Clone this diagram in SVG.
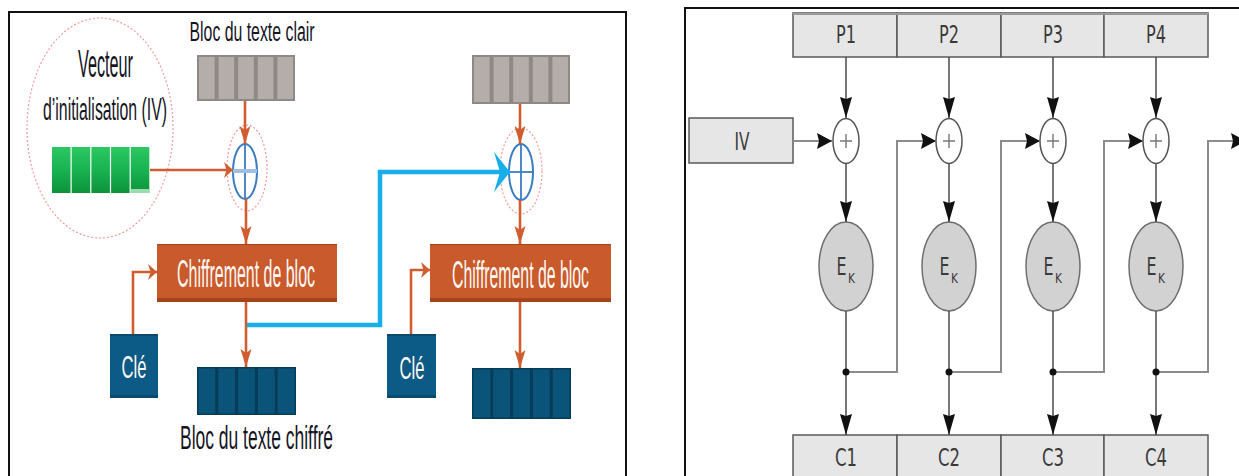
<svg xmlns="http://www.w3.org/2000/svg" width="1239" height="476" viewBox="0 0 1239 476">
  <defs>
    <style>
      .frame { fill: none; stroke: #111; stroke-width: 2; }
      .lbl { font-family: "Liberation Sans", Arial, sans-serif; fill: #15151f; text-anchor: middle; }
      .wlbl { font-family: "Liberation Sans", Arial, sans-serif; fill: #fff8f2; text-anchor: middle; }
      .plbl { font-family: "DejaVu Sans Condensed", "DejaVu Sans", sans-serif; fill: #3a3a3a; text-anchor: middle; }
      .sub { font-family: "DejaVu Sans Condensed", "DejaVu Sans", sans-serif; fill: #3a3a3a; }
      .halo { fill: none; stroke: #f39a9a; stroke-width: 1.2; stroke-dasharray: 2 2; }
      .xor { fill: #fff; stroke: #3b7cc3; stroke-width: 2; }
      .xorline { stroke: #3b7cc3; stroke-width: 1.8; }
      .orange { fill: none; stroke: #d05d2f; stroke-width: 2.6; }
      .cyan { fill: none; stroke: #17aeea; stroke-width: 4.5; }
      .cipher { fill: #c95a2c; }
      .cipher-edge { fill: #a3441c; }
      .key { fill: #0c5a86; }
      .pbox { fill: #e6e6e6; stroke: #5a5a5a; stroke-width: 1.5; }
      .cxor { fill: #fff; stroke: #555; stroke-width: 1.5; }
      .plus { stroke: #777; stroke-width: 1.4; }
      .ek { fill: #d2d2d2; stroke: #6e6e6e; stroke-width: 1.5; }
      .wire { fill: none; stroke: #4a4a4a; stroke-width: 1.5; }
      .feed { fill: none; stroke: #8c8c8c; stroke-width: 2; }
    </style>
    <linearGradient id="greenCell" x1="0" y1="0" x2="0" y2="1">
      <stop offset="0" stop-color="#2bc862"/>
      <stop offset="0.55" stop-color="#17b04f"/>
      <stop offset="1" stop-color="#0d923b"/>
    </linearGradient>
    <!-- orange arrowheads: along a vertical line, along a horizontal line -->
    <marker id="ov" markerUnits="userSpaceOnUse" markerWidth="18" markerHeight="11" refX="18" refY="5.5" orient="auto" overflow="visible">
      <path d="M0,0 L18,5.5 L0,11 L4,5.5 z" fill="#d05d2f"/>
    </marker>
    <marker id="oh" markerUnits="userSpaceOnUse" markerWidth="9" markerHeight="16" refX="9" refY="8" orient="auto" overflow="visible">
      <path d="M0,0 L9,8 L0,16 L2.5,8 z" fill="#d05d2f"/>
    </marker>
    <marker id="ch" markerUnits="userSpaceOnUse" markerWidth="16" markerHeight="40" refX="16" refY="20" orient="auto" overflow="visible">
      <path d="M0,0 L16,20 L0,40 L6,20 z" fill="#17aeea"/>
    </marker>
    <!-- black arrowheads of the block chain -->
    <marker id="bv" markerUnits="userSpaceOnUse" markerWidth="21" markerHeight="12" refX="21" refY="6" orient="auto" overflow="visible">
      <path d="M0,0 L21,6 L0,12 L2,6 z" fill="#111"/>
    </marker>
    <marker id="bh" markerUnits="userSpaceOnUse" markerWidth="15" markerHeight="16" refX="15" refY="8" orient="auto" overflow="visible">
      <path d="M0,0 L15,8 L0,16 L2,8 z" fill="#111"/>
    </marker>
  </defs>

  <rect width="1239" height="476" fill="#fff"/>

  <!-- panel frames -->
  <rect class="frame" x="9" y="12" width="617" height="480"/>
  <rect class="frame" x="685" y="8" width="600" height="490"/>

  <!-- ===== left panel: CBC with blocks ===== -->
  <g id="iv-halo">
    <ellipse class="halo" cx="100" cy="128" rx="73" ry="110"/>
    <text class="lbl" x="105.5" y="77" font-size="38" textLength="55" lengthAdjust="spacingAndGlyphs">Vecteur</text>
    <text class="lbl" x="105" y="120" font-size="31" textLength="124" lengthAdjust="spacingAndGlyphs">d’initialisation (IV)</text>
  </g>

  <g id="iv-block">
    <rect x="52" y="147" width="18.5" height="46" fill="url(#greenCell)"/>
    <rect x="71.7" y="147" width="18.5" height="46" fill="url(#greenCell)"/>
    <rect x="91.4" y="147" width="18.5" height="46" fill="url(#greenCell)"/>
    <rect x="111.1" y="147" width="18.5" height="46" fill="url(#greenCell)"/>
    <rect x="130.8" y="147" width="18.5" height="46" fill="url(#greenCell)"/>
    <rect x="130.8" y="189" width="18.5" height="4" fill="#9adcb0"/>
  </g>

  <g id="plain-1">
    <text class="lbl" x="252" y="41" font-size="27" textLength="125" lengthAdjust="spacingAndGlyphs">Bloc du texte clair</text>
    <rect x="197" y="55" width="98" height="46" fill="#8e8886"/>
    <rect x="199" y="57" width="15.6" height="42" fill="#b5adaa"/>
    <rect x="218.6" y="57" width="15.6" height="42" fill="#b5adaa"/>
    <rect x="238.2" y="57" width="15.6" height="42" fill="#b5adaa"/>
    <rect x="257.8" y="57" width="15.6" height="42" fill="#b5adaa"/>
    <rect x="277.4" y="57" width="15.6" height="42" fill="#b5adaa"/>
  </g>

  <g id="plain-2">
    <rect x="472" y="55" width="98" height="49" fill="#8e8886"/>
    <rect x="474" y="57" width="15.6" height="45" fill="#b5adaa"/>
    <rect x="493.6" y="57" width="15.6" height="45" fill="#b5adaa"/>
    <rect x="513.2" y="57" width="15.6" height="45" fill="#b5adaa"/>
    <rect x="532.8" y="57" width="15.6" height="45" fill="#b5adaa"/>
    <rect x="552.4" y="57" width="15.6" height="45" fill="#b5adaa"/>
  </g>

  <g id="xor-1">
    <ellipse class="halo" cx="247" cy="168" rx="20" ry="43"/>
    <ellipse class="xor" cx="245" cy="171.5" rx="12" ry="27.5"/>
    <line class="xorline" x1="245" y1="144" x2="245" y2="199"/>
    <line x1="233" y1="171" x2="257" y2="171" stroke="#9cc0e6" stroke-width="4"/>
  </g>

  <g id="xor-2">
    <ellipse class="halo" cx="521" cy="171" rx="21" ry="43"/>
    <ellipse class="xor" cx="521" cy="172" rx="12" ry="28"/>
    <line class="xorline" x1="521" y1="144" x2="521" y2="200"/>
    <line class="xorline" x1="509" y1="172" x2="533" y2="172"/>
  </g>

  <g id="cipher-1">
    <rect class="cipher-edge" x="157" y="244" width="180" height="58"/>
    <rect class="cipher" x="157" y="245" width="180" height="53"/>
    <text class="wlbl" transform="translate(246 287) scale(0.5 1)" x="0" y="0" font-size="38" textLength="276" lengthAdjust="spacingAndGlyphs">Chiffrement de bloc</text>
  </g>

  <g id="cipher-2">
    <rect class="cipher-edge" x="430" y="244" width="181" height="58"/>
    <rect class="cipher" x="430" y="245" width="181" height="53"/>
    <text class="wlbl" transform="translate(520.5 288) scale(0.5 1)" x="0" y="0" font-size="38" textLength="274" lengthAdjust="spacingAndGlyphs">Chiffrement de bloc</text>
  </g>

  <g id="key-1">
    <rect x="110" y="334" width="48" height="64" fill="#0a4a6e"/>
    <rect class="key" x="110" y="336" width="48" height="59"/>
    <text class="wlbl" x="134" y="378" font-size="32" textLength="25" lengthAdjust="spacingAndGlyphs">Clé</text>
  </g>

  <g id="key-2">
    <rect x="387" y="334" width="49" height="64" fill="#0a4a6e"/>
    <rect class="key" x="387" y="336" width="49" height="59"/>
    <text class="wlbl" x="412" y="379" font-size="32" textLength="25" lengthAdjust="spacingAndGlyphs">Clé</text>
  </g>

  <g id="cipher-block-1">
    <rect x="197" y="367" width="99" height="48" fill="#073c58"/>
    <rect x="198.5" y="368.5" width="16.8" height="45" fill="#0b5479"/>
    <rect x="218.3" y="368.5" width="16.8" height="45" fill="#0b5479"/>
    <rect x="238.1" y="368.5" width="16.8" height="45" fill="#0b5479"/>
    <rect x="257.9" y="368.5" width="16.8" height="45" fill="#0b5479"/>
    <rect x="277.7" y="368.5" width="16.8" height="45" fill="#0b5479"/>
    <text class="lbl" x="256.5" y="449" font-size="34" textLength="153" lengthAdjust="spacingAndGlyphs">Bloc du texte chiffré</text>
  </g>

  <g id="cipher-block-2">
    <rect x="472" y="368" width="99" height="51" fill="#073c58"/>
    <rect x="473.5" y="369.5" width="16.8" height="48" fill="#0b5479"/>
    <rect x="493.3" y="369.5" width="16.8" height="48" fill="#0b5479"/>
    <rect x="513.1" y="369.5" width="16.8" height="48" fill="#0b5479"/>
    <rect x="532.9" y="369.5" width="16.8" height="48" fill="#0b5479"/>
    <rect x="552.7" y="369.5" width="16.8" height="48" fill="#0b5479"/>
  </g>

  <!-- ===== right panel: CBC chain ===== -->
  <g id="p-row">
    <rect class="pbox" x="793" y="13" width="104" height="44"/>
    <rect class="pbox" x="897" y="13" width="104" height="44"/>
    <rect class="pbox" x="1001" y="13" width="103" height="44"/>
    <rect class="pbox" x="1104" y="13" width="104" height="44"/>
    <line x1="793" y1="14" x2="1208" y2="14" stroke="#9a9a9a" stroke-width="2"/>
    <text class="plbl" x="846" y="43" font-size="24" textLength="20" lengthAdjust="spacingAndGlyphs">P1</text>
    <text class="plbl" x="949" y="43" font-size="24" textLength="20" lengthAdjust="spacingAndGlyphs">P2</text>
    <text class="plbl" x="1053" y="43" font-size="24" textLength="20" lengthAdjust="spacingAndGlyphs">P3</text>
    <text class="plbl" x="1156" y="43" font-size="24" textLength="20" lengthAdjust="spacingAndGlyphs">P4</text>
  </g>

  <g id="iv-box">
    <rect class="pbox" x="689" y="118" width="104" height="45"/>
    <text class="plbl" x="742" y="150" font-size="25" textLength="15" lengthAdjust="spacingAndGlyphs">IV</text>
  </g>

  <g id="c-row">
    <rect class="pbox" x="793" y="435" width="104" height="50"/>
    <rect class="pbox" x="897" y="435" width="104" height="50"/>
    <rect class="pbox" x="1001" y="435" width="103" height="50"/>
    <rect class="pbox" x="1104" y="435" width="104" height="50"/>
    <text class="plbl" x="846" y="466" font-size="25" textLength="22" lengthAdjust="spacingAndGlyphs">C1</text>
    <text class="plbl" x="949" y="466" font-size="25" textLength="22" lengthAdjust="spacingAndGlyphs">C2</text>
    <text class="plbl" x="1053" y="466" font-size="25" textLength="22" lengthAdjust="spacingAndGlyphs">C3</text>
    <text class="plbl" x="1156" y="466" font-size="25" textLength="22" lengthAdjust="spacingAndGlyphs">C4</text>
  </g>

  <g id="xor-chain">
    <ellipse class="cxor" cx="846" cy="141" rx="13" ry="22.5"/>
    <ellipse class="cxor" cx="949" cy="141" rx="13" ry="22.5"/>
    <ellipse class="cxor" cx="1053" cy="141" rx="13" ry="22.5"/>
    <ellipse class="cxor" cx="1156" cy="141" rx="13" ry="22.5"/>
    <path class="plus" d="M846,134 V148 M840,141 H852 M949,134 V148 M943,141 H955 M1053,134 V148 M1047,141 H1059 M1156,134 V148 M1150,141 H1162"/>
  </g>

  <g id="ek-chain">
    <ellipse class="ek" cx="846" cy="266.5" rx="27" ry="44.5"/>
    <ellipse class="ek" cx="949" cy="266.5" rx="27" ry="44.5"/>
    <ellipse class="ek" cx="1053" cy="266.5" rx="27" ry="44.5"/>
    <ellipse class="ek" cx="1156" cy="266.5" rx="27" ry="44.5"/>
    <!-- E with subscript K, set as two pieces side by side -->
    <text class="plbl" x="841.5" y="275" font-size="24" textLength="10" lengthAdjust="spacingAndGlyphs">E</text>
    <text class="sub" x="848" y="283" font-size="14" textLength="7" lengthAdjust="spacingAndGlyphs">K</text>
    <text class="plbl" x="944.5" y="275" font-size="24" textLength="10" lengthAdjust="spacingAndGlyphs">E</text>
    <text class="sub" x="951" y="283" font-size="14" textLength="7" lengthAdjust="spacingAndGlyphs">K</text>
    <text class="plbl" x="1048.5" y="275" font-size="24" textLength="10" lengthAdjust="spacingAndGlyphs">E</text>
    <text class="sub" x="1055" y="283" font-size="14" textLength="7" lengthAdjust="spacingAndGlyphs">K</text>
    <text class="plbl" x="1151.5" y="275" font-size="24" textLength="10" lengthAdjust="spacingAndGlyphs">E</text>
    <text class="sub" x="1158" y="283" font-size="14" textLength="7" lengthAdjust="spacingAndGlyphs">K</text>
  </g>

  <!-- ===== connectors ===== -->
  <g id="connectors">
    <!-- left panel -->
    <path class="orange" d="M150,170 H233" stroke-width="3.4" marker-end="url(#oh)"/>
    <path class="orange" d="M245,101 V144" marker-end="url(#ov)"/>
    <path class="orange" d="M246,199 V244" marker-end="url(#ov)"/>
    <path class="orange" d="M133,334 V272 H157" marker-end="url(#oh)"/>
    <path class="orange" d="M246,302 V367" marker-end="url(#ov)"/>
    <path class="cyan" d="M247,325 H380 V172 H510" marker-end="url(#ch)"/>
    <path class="orange" d="M520,104 V144" marker-end="url(#ov)"/>
    <path class="orange" d="M520,200 V244" marker-end="url(#ov)"/>
    <path class="orange" d="M411,334 V270 H430" marker-end="url(#oh)"/>
    <path class="orange" d="M520,302 V368" marker-end="url(#ov)"/>

    <!-- right panel -->
    <path class="feed" d="M793,141 H832" marker-end="url(#bh)"/>
    <path class="wire" d="M846,57 V118" marker-end="url(#bv)"/>
    <path class="wire" d="M949,57 V118" marker-end="url(#bv)"/>
    <path class="wire" d="M1053,57 V118" marker-end="url(#bv)"/>
    <path class="wire" d="M1156,57 V118" marker-end="url(#bv)"/>
    <path class="wire" d="M846,164 V222" marker-end="url(#bv)"/>
    <path class="wire" d="M949,164 V222" marker-end="url(#bv)"/>
    <path class="wire" d="M1053,164 V222" marker-end="url(#bv)"/>
    <path class="wire" d="M1156,164 V222" marker-end="url(#bv)"/>
    <path class="wire" d="M846,311 V435" marker-end="url(#bv)"/>
    <path class="wire" d="M949,311 V435" marker-end="url(#bv)"/>
    <path class="wire" d="M1053,311 V435" marker-end="url(#bv)"/>
    <path class="wire" d="M1156,311 V435" marker-end="url(#bv)"/>
    <path class="feed" d="M846,372 H897 V141 H936" marker-end="url(#bh)"/>
    <path class="feed" d="M949,372 H1001 V141 H1040" marker-end="url(#bh)"/>
    <path class="feed" d="M1053,372 H1104 V141 H1143" marker-end="url(#bh)"/>
    <path class="feed" d="M1156,372 H1208 V141 H1246" marker-end="url(#bh)"/>
    <circle cx="846" cy="372" r="3.5" fill="#111"/>
    <circle cx="949" cy="372" r="3.5" fill="#111"/>
    <circle cx="1053" cy="372" r="3.5" fill="#111"/>
    <circle cx="1156" cy="372" r="3.5" fill="#111"/>
  </g>
</svg>
